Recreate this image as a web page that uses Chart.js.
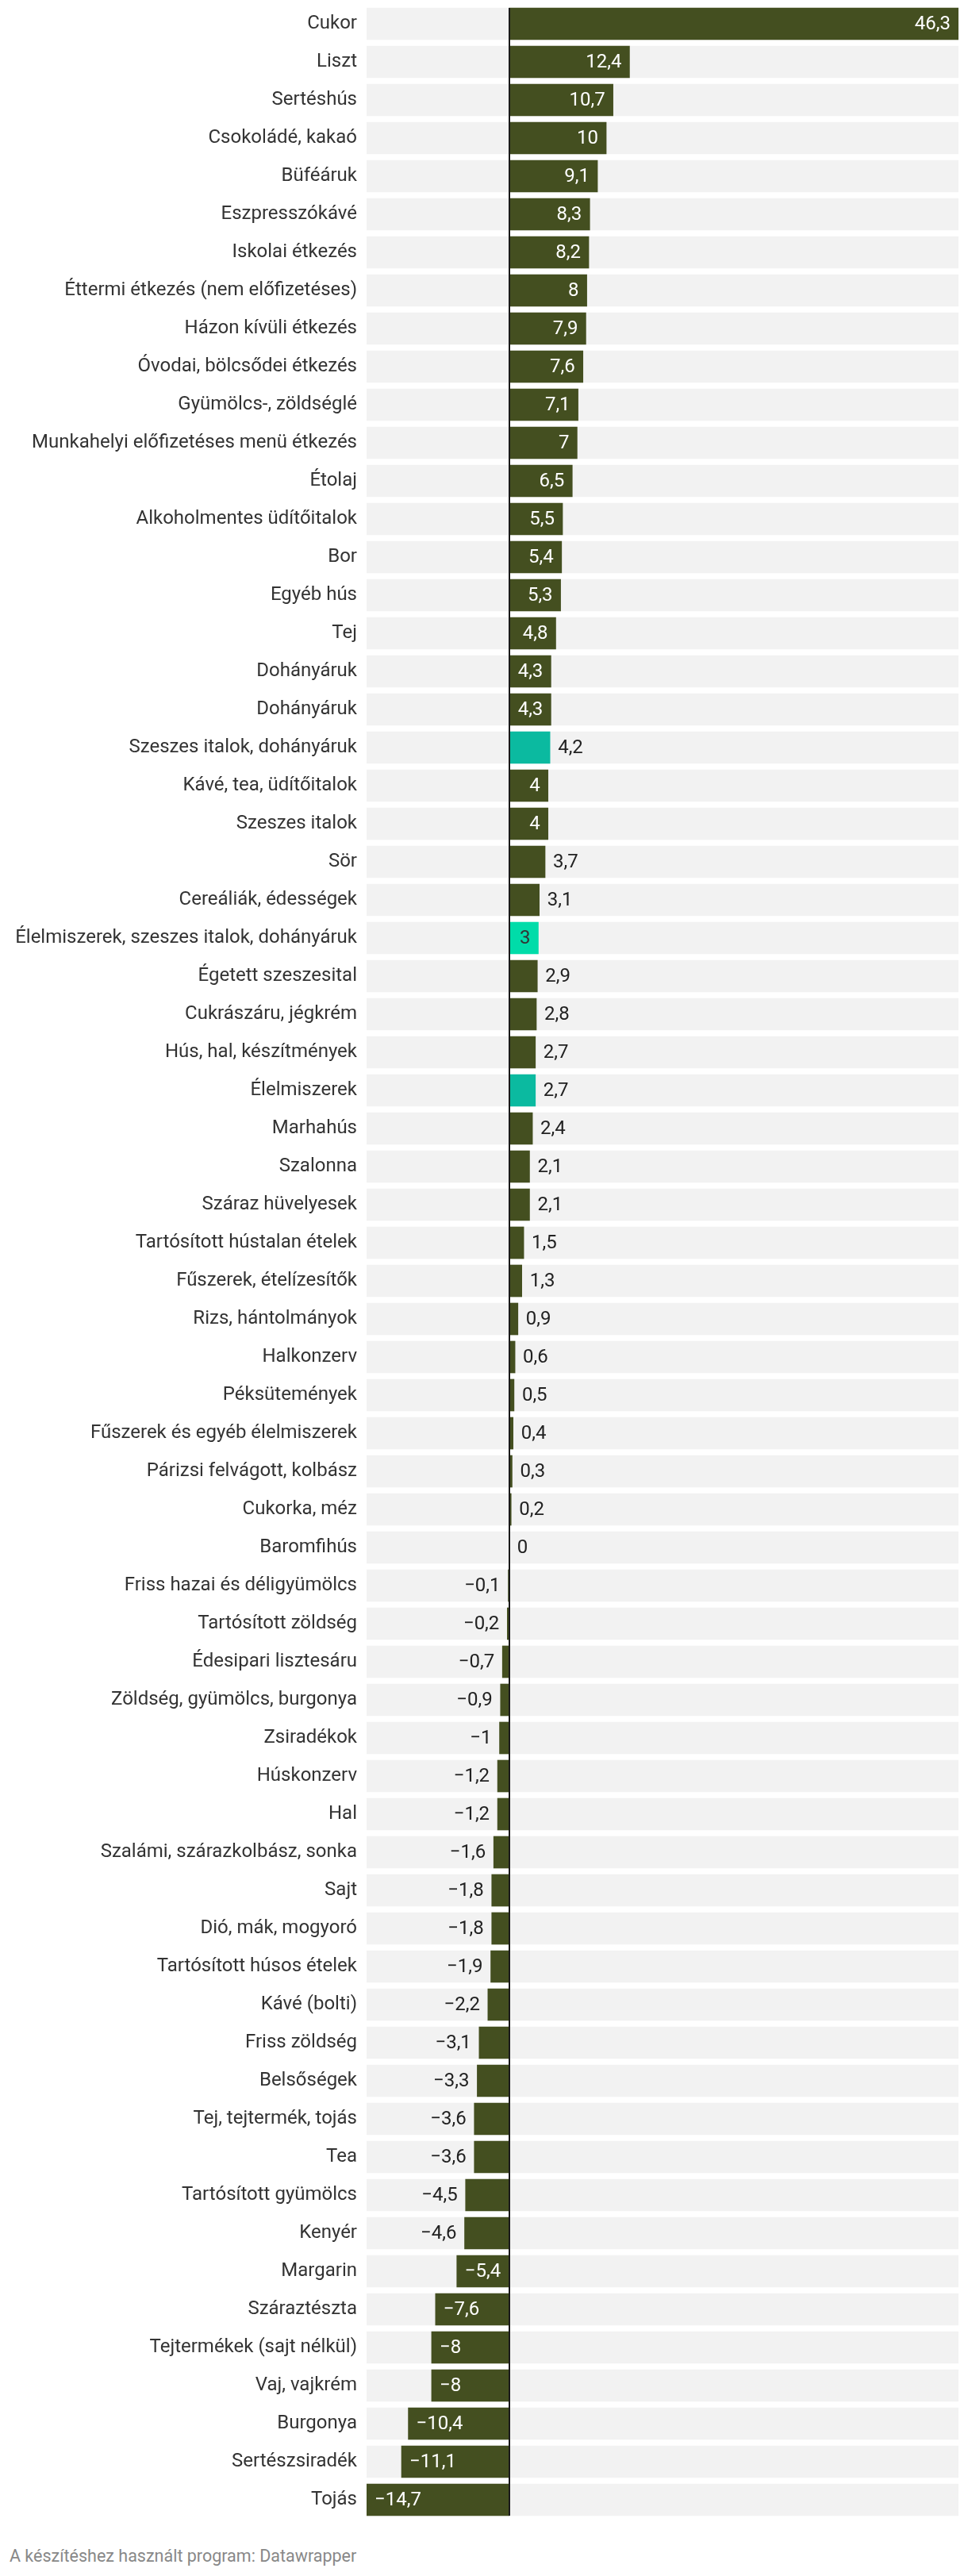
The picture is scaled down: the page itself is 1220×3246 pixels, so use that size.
<!DOCTYPE html>
<html lang="hu">
<head>
<meta charset="utf-8">
<title>Árváltozás termékcsoportonként</title>
<script src="https://cdn.jsdelivr.net/npm/chart.js@4.4.1/dist/chart.umd.min.js"></script>
<style>
    body { margin: 0; background: #fff; }
    #wrap { position: relative; width: 1220px; height: 3246px; }
    #chart { position: absolute; left: 0; top: 0; }
    .credit {
        position: absolute;
        left: 12px;
        top: 3208px;
        font: 21.5px Roboto, sans-serif;
        color: #888;
    }
</style>
</head>
<body>
<div id="wrap">
    <canvas id="chart" width="1220" height="3180"></canvas>
    <div class="credit">A készítéshez használt program: Datawrapper</div>
</div>
<script>
// Data
const categories = [
    'Cukor', 'Liszt', 'Sertéshús', 'Csokoládé, kakaó', 'Büféáruk', 'Eszpresszókávé',
    'Iskolai étkezés', 'Éttermi étkezés (nem előfizetéses)', 'Házon kívüli étkezés',
    'Óvodai, bölcsődei étkezés', 'Gyümölcs-, zöldséglé', 'Munkahelyi előfizetéses menü étkezés',
    'Étolaj', 'Alkoholmentes üdítőitalok', 'Bor', 'Egyéb hús', 'Tej', 'Dohányáruk', 'Dohányáruk',
    'Szeszes italok, dohányáruk', 'Kávé, tea, üdítőitalok', 'Szeszes italok', 'Sör',
    'Cereáliák, édességek', 'Élelmiszerek, szeszes italok, dohányáruk', 'Égetett szeszesital',
    'Cukrászáru, jégkrém', 'Hús, hal, készítmények', 'Élelmiszerek', 'Marhahús', 'Szalonna',
    'Száraz hüvelyesek', 'Tartósított hústalan ételek', 'Fűszerek, ételízesítők',
    'Rizs, hántolmányok', 'Halkonzerv', 'Péksütemények', 'Fűszerek és egyéb élelmiszerek',
    'Párizsi felvágott, kolbász', 'Cukorka, méz', 'Baromfihús', 'Friss hazai és déligyümölcs',
    'Tartósított zöldség', 'Édesipari lisztesáru', 'Zöldség, gyümölcs, burgonya', 'Zsiradékok',
    'Húskonzerv', 'Hal', 'Szalámi, szárazkolbász, sonka', 'Sajt', 'Dió, mák, mogyoró',
    'Tartósított húsos ételek', 'Kávé (bolti)', 'Friss zöldség', 'Belsőségek',
    'Tej, tejtermék, tojás', 'Tea', 'Tartósított gyümölcs', 'Kenyér', 'Margarin',
    'Száraztészta', 'Tejtermékek (sajt nélkül)', 'Vaj, vajkrém', 'Burgonya', 'Sertészsiradék',
    'Tojás'
];

const values = [
    46.3, 12.4, 10.7, 10, 9.1, 8.3,
    8.2, 8, 7.9,
    7.6, 7.1, 7,
    6.5, 5.5, 5.4, 5.3, 4.8, 4.3, 4.3,
    4.2, 4, 4, 3.7,
    3.1, 3, 2.9,
    2.8, 2.7, 2.7, 2.4, 2.1,
    2.1, 1.5, 1.3,
    0.9, 0.6, 0.5, 0.4,
    0.3, 0.2, 0, -0.1,
    -0.2, -0.7, -0.9, -1,
    -1.2, -1.2, -1.6, -1.8, -1.8,
    -1.9, -2.2, -3.1, -3.3,
    -3.6, -3.6, -4.5, -4.6, -5.4,
    -7.6, -8, -8, -10.4, -11.1,
    -14.7
];

// Axis range
const xMin = -14.7;
const xMax = 46.3;

// Highlighted groups
const highlightGroups = ['Szeszes italok, dohányáruk', 'Élelmiszerek'];
const mainGroups = ['Élelmiszerek, szeszes italok, dohányáruk'];

// Colors
const barColor = '#444f20';
const groupColor = '#0bbaa0';
const mainColor = '#00dca9';
const trackColor = '#f2f2f2';
const textColor = '#333333';

function colorFor(label) {
    if (mainGroups.includes(label)) return mainColor;
    if (highlightGroups.includes(label)) return groupColor;
    return barColor;
}

function formatValue(v) {
    const s = String(Math.abs(v)).replace('.', ',');
    return v < 0 ? '\u2212' + s : s;
}

// Value labels, inside the bar when there is room for them
const valueLabels = {
    id: 'valueLabels',
    afterDatasetsDraw(chart) {
        const ctx = chart.ctx;
        const meta = chart.getDatasetMeta(0);
        const pad = 10;
        ctx.save();
        ctx.font = '24px Roboto, sans-serif';
        ctx.textBaseline = 'middle';
        meta.data.forEach((bar, i) => {
            const v = values[i];
            const text = formatValue(v);
            const tw = ctx.measureText(text).width;
            const left = Math.min(bar.x, bar.base);
            const right = Math.max(bar.x, bar.base);
            const inside = (right - left) > tw + 2 * pad;
            const fill = colorFor(categories[i]);
            const inColor = fill === barColor ? '#ffffff' : textColor;
            if (v >= 0) {
                if (inside) {
                    ctx.textAlign = 'right';
                    ctx.fillStyle = inColor;
                    ctx.fillText(text, right - pad, bar.y + 1);
                } else {
                    ctx.textAlign = 'left';
                    ctx.fillStyle = '#222';
                    ctx.fillText(text, right + pad, bar.y + 1);
                }
            } else {
                if (inside) {
                    ctx.textAlign = 'left';
                    ctx.fillStyle = inColor;
                    ctx.fillText(text, left + pad, bar.y + 1);
                } else {
                    ctx.textAlign = 'right';
                    ctx.fillStyle = '#222';
                    ctx.fillText(text, left - pad, bar.y + 1);
                }
            }
        });
        ctx.restore();
    }
};

// Zero line over the bars
const zeroLine = {
    id: 'zeroLine',
    afterDatasetsDraw(chart) {
        const ctx = chart.ctx;
        const x = Math.round(chart.scales.x.getPixelForValue(0));
        const area = chart.chartArea;
        ctx.save();
        ctx.fillStyle = '#1a1a1a';
        ctx.fillRect(x - 1, area.top + 4, 2, area.bottom - area.top - 8);
        ctx.restore();
    }
};

new Chart(document.getElementById('chart'), {
    type: 'bar',
    data: {
        labels: categories,
        datasets: [
            {
                data: values,
                backgroundColor: categories.map(colorFor),
                barThickness: 40,
                grouped: false,
                order: 1
            },
            {
                data: categories.map(() => [xMin, xMax]),
                backgroundColor: trackColor,
                barThickness: 40,
                grouped: false,
                order: 2
            }
        ]
    },
    options: {
        indexAxis: 'y',
        responsive: false,
        animation: false,
        devicePixelRatio: 1,
        layout: { padding: { top: 6, bottom: 6, left: 0, right: 12 } },
        plugins: {
            legend: { display: false },
            tooltip: { enabled: false }
        },
        scales: {
            x: {
                display: false,
                min: xMin,
                max: xMax
            },
            y: {
                grid: { display: false, drawTicks: false },
                border: { display: false },
                ticks: {
                    padding: 12,
                    color: textColor,
                    font: { family: 'Roboto, sans-serif', size: 24 },
                    autoSkip: false
                },
                afterFit(scale) {
                    scale.width = 462;
                    scale.paddingTop = 0;
                    scale.paddingBottom = 0;
                }
            }
        }
    },
    plugins: [valueLabels, zeroLine]
});
</script>
</body>
</html>
